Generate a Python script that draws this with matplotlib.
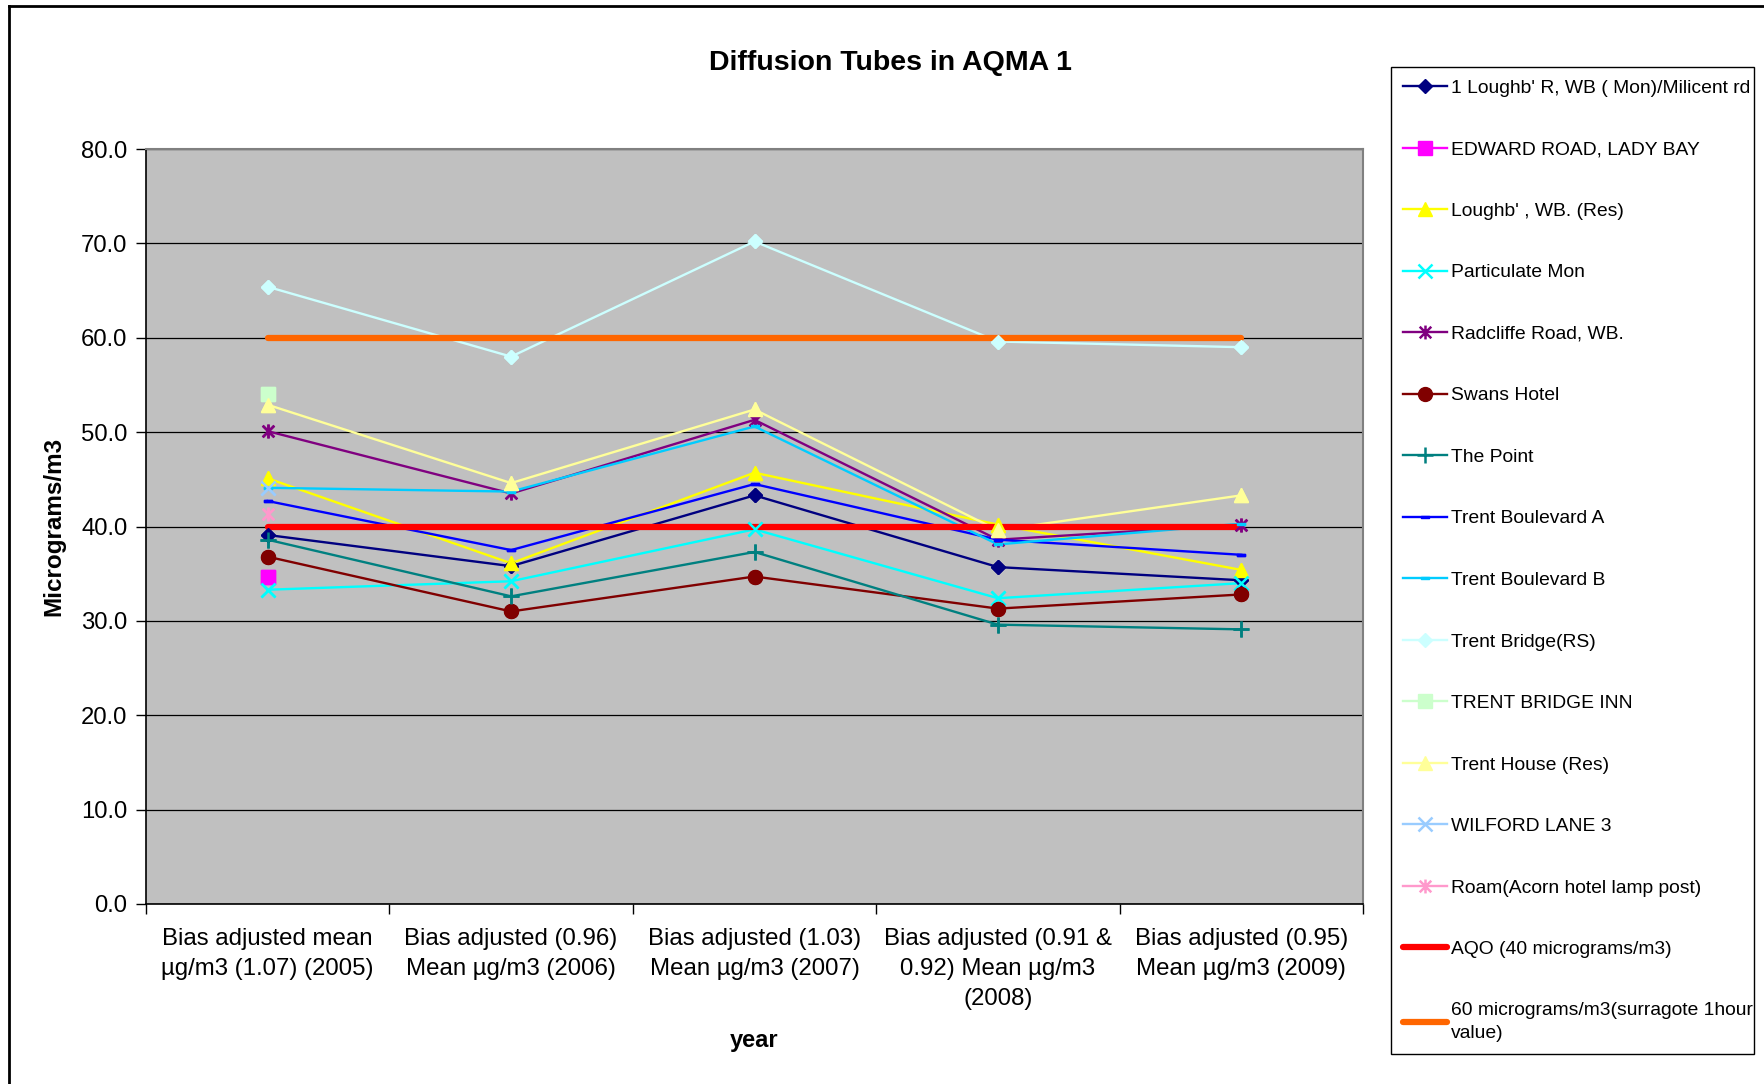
import numpy as np
import matplotlib
matplotlib.use("Agg")
import matplotlib.pyplot as plt
from matplotlib.path import Path
from matplotlib.lines import Line2D

plt.rcParams['font.family'] = ['Liberation Sans', 'DejaVu Sans']

nan = np.nan

# Category (x-axis) labels
categories = [
    "Bias adjusted mean\nµg/m3 (1.07) (2005)",
    "Bias adjusted (0.96)\nMean µg/m3 (2006)",
    "Bias adjusted (1.03)\nMean µg/m3 (2007)",
    "Bias adjusted (0.91 &\n0.92) Mean µg/m3\n(2008)",
    "Bias adjusted (0.95)\nMean µg/m3 (2009)",
]

# Site measurements (µg/m3)
loughb_r_milicent = [39.1, 35.8, 43.3, 35.7, 34.3]
edward_road = [34.6, nan, nan, nan, nan]
loughb_res = [45.1, 36.1, 45.7, 40.2, 35.4]
particulate_mon = [33.3, 34.2, 39.7, 32.4, 34.0]
radcliffe_road = [50.1, 43.5, 51.3, 38.6, 40.2]
swans_hotel = [36.8, 31.0, 34.7, 31.3, 32.8]
the_point = [38.6, 32.6, 37.3, 29.6, 29.1]
trent_boulevard_a = [42.7, 37.5, 44.5, 38.6, 37.0]
trent_boulevard_b = [44.1, 43.7, 50.6, 38.1, 40.3]
trent_bridge_rs = [65.4, 58.0, 70.2, 59.6, 59.0]
trent_bridge_inn = [54.0, nan, nan, nan, nan]
trent_house_res = [52.9, 44.6, 52.4, 39.6, 43.3]
wilford_lane_3 = [44.1, nan, nan, nan, nan]
roam_acorn = [41.3, nan, nan, nan, nan]

# Reference levels
aqo = [40, 40, 40, 40, 40]
surrogate_1hour = [60, 60, 60, 60, 60]

y_ticks = [0, 10, 20, 30, 40, 50, 60, 70, 80]

# Custom marker shapes
asterisk = Path(
    [(-1, -1), (1, 1), (-1, 1), (1, -1), (0, -1.2), (0, 1.2)],
    [Path.MOVETO, Path.LINETO, Path.MOVETO, Path.LINETO, Path.MOVETO, Path.LINETO],
)
dash = Path(
    [(-1, -0.35), (1, -0.35), (1, 0.35), (-1, 0.35), (-1, -0.35)],
    [Path.MOVETO, Path.LINETO, Path.LINETO, Path.LINETO, Path.CLOSEPOLY],
)

series = [
    ("1 Loughb' R, WB ( Mon)/Milicent rd", loughb_r_milicent, "#000080", "D", 7.5, True),
    ("EDWARD ROAD, LADY BAY", edward_road, "#FF00FF", "s", 9.5, True),
    ("Loughb' , WB. (Res)", loughb_res, "#FFFF00", "^", 10, True),
    ("Particulate Mon", particulate_mon, "#00FFFF", "x", 10, False),
    ("Radcliffe Road, WB.", radcliffe_road, "#800080", asterisk, 10, False),
    ("Swans Hotel", swans_hotel, "#800000", "o", 10, True),
    ("The Point", the_point, "#008080", "+", 11, False),
    ("Trent Boulevard A", trent_boulevard_a, "#0000FF", dash, 6, True),
    ("Trent Boulevard B", trent_boulevard_b, "#00CCFF", dash, 6, True),
    ("Trent Bridge(RS)", trent_bridge_rs, "#CCFFFF", "D", 7.5, True),
    ("TRENT BRIDGE INN", trent_bridge_inn, "#CCFFCC", "s", 10, True),
    ("Trent House (Res)", trent_house_res, "#FFFF99", "^", 10, True),
    ("WILFORD LANE 3", wilford_lane_3, "#99CCFF", "x", 10, False),
    ("Roam(Acorn hotel lamp post)", roam_acorn, "#FF99CC", asterisk, 10, False),
]

W, H = 1764, 1084
fig = plt.figure(figsize=(W / 100, H / 100), dpi=100)
fig.patch.set_facecolor("white")

# Outer chart border (left and top edges)
fig.add_artist(Line2D([9 / W, 9 / W], [0, 1 - 6 / H], color="black", lw=2, transform=fig.transFigure))
fig.add_artist(Line2D([9 / W, 1], [1 - 6 / H, 1 - 6 / H], color="black", lw=2, transform=fig.transFigure))

left, right, top, bottom = 146, 1363, 149, 904
ax = fig.add_axes([left / W, 1 - bottom / H, (right - left) / W, (bottom - top) / H])
ax.set_facecolor("#C0C0C0")

x = np.arange(len(categories))

handles = []
labels = []
for name, vals, color, marker, ms, filled in series:
    vals = np.asarray(vals, dtype=float)
    style = dict(marker=marker, markersize=ms,
                 markerfacecolor=color if filled else "none",
                 markeredgecolor=color, markeredgewidth=1.0 if filled else 1.8)
    line, = ax.plot(x, vals, color=color, lw=1.7, zorder=2, **style)
    # markers are repainted above the reference lines
    ax.plot(x, vals, linestyle="none", zorder=4, **style)
    handles.append(line)
    labels.append(name)

aqo_line, = ax.plot(x, aqo, color="#FF0000", lw=4.5, solid_capstyle="round", zorder=3)
s60_line, = ax.plot(x, surrogate_1hour, color="#FF6600", lw=4.5, solid_capstyle="round", zorder=3)
handles += [aqo_line, s60_line]
labels += ["AQO (40 micrograms/m3)", "60 micrograms/m3(surragote 1hour\nvalue)"]

ax.set_xlim(-0.5, len(categories) - 0.5)
ax.set_ylim(0, 80)
ax.set_yticks(y_ticks)
ax.set_yticklabels([f"{v:.1f}" for v in y_ticks], fontsize=17.2)
ax.yaxis.grid(True, color="black", lw=0.9, zorder=1)
ax.set_axisbelow(True)

# category boundaries carry tick marks, category centers carry labels
ax.set_xticks(np.arange(-0.5, len(categories), 1.0))
ax.set_xticklabels([])
ax.set_xticks(x, minor=True)
ax.set_xticklabels(categories, minor=True, fontsize=17.3, linespacing=1.47)
ax.tick_params(axis="x", which="minor", length=0, pad=17)
ax.tick_params(axis="x", which="major", length=7, direction="out", width=1)
ax.tick_params(axis="y", length=7, direction="out", width=1, pad=6.5)

for s in ("top", "right"):
    ax.spines[s].set_color("#808080")
    ax.spines[s].set_linewidth(1.5)
for s in ("left", "bottom"):
    ax.spines[s].set_color("black")
    ax.spines[s].set_linewidth(1.2)

ax.set_ylabel("Micrograms/m3", fontsize=17.5, fontweight="bold", labelpad=0)
ax.yaxis.set_label_coords((65 - left) / (right - left), 0.5)
ax.set_xlabel("year", fontsize=17, fontweight="bold")
ax.xaxis.set_label_coords(0.5, -(1029.5 - bottom) / (bottom - top))

fig.text(890 / W, 1 - 63 / H, "Diffusion Tubes in AQMA 1", fontsize=20.5,
         fontweight="bold", ha="center", va="center")

leg_x0, leg_x1, leg_y0, leg_y1 = 1390.7, 1754, 67.3, 1051
leg = fig.legend(handles, labels, loc="upper left", mode="expand",
                 bbox_to_anchor=(leg_x0 / W, 1 - leg_y1 / H,
                                 (leg_x1 - leg_x0) / W, (leg_y1 - leg_y0) / H),
                 fontsize=13.9, frameon=True, fancybox=False, framealpha=1,
                 edgecolor="black", facecolor="white",
                 labelspacing=2.28, handlelength=2.3, handletextpad=0.18,
                 borderpad=0.62, borderaxespad=0)
leg.get_frame().set_linewidth(1.0)
for t in leg.get_texts():
    t.set_linespacing(1.45)

fig.savefig("out.png", dpi=100)
